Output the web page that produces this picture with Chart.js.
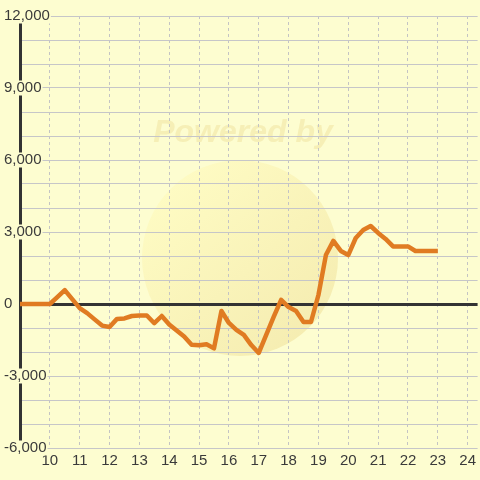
<!DOCTYPE html>
<html>
<head>
<meta charset="utf-8">
<script src="https://cdn.jsdelivr.net/npm/chart.js@4/dist/chart.umd.min.js"></script>
<style>
  html, body { margin: 0; padding: 0; background: #fdfdd0; }
  #c { display: block; }
</style>
</head>
<body>
<canvas id="c" width="480" height="480"></canvas>
<script>
// Hours (x) and values (y)
const hours = [9, 10, 10.25, 10.5, 10.75, 11, 11.25, 11.5, 11.75, 12, 12.25, 12.5, 12.75, 13, 13.25, 13.5, 13.75,
  14, 14.25, 14.5, 14.75, 15, 15.25, 15.5, 15.75, 16, 16.25, 16.5, 16.75, 17, 17.25, 17.5, 17.75,
  18, 18.25, 18.5, 18.75, 19, 19.25, 19.5, 19.75, 20, 20.25, 20.5, 20.75, 21, 21.25, 21.5, 21.75,
  22, 22.25, 22.5, 22.75, 23];
const values = [0, 0, 290, 580, 200, -170, -380, -640, -900, -960, -620, -600, -500, -480, -480, -800, -500,
  -850, -1100, -1350, -1700, -1720, -1680, -1850, -290, -790, -1080, -1290, -1710, -2040, -1290, -540, 170,
  -130, -290, -750, -750, 375, 2040, 2630, 2210, 2040, 2750, 3080, 3250, 2960, 2710, 2400, 2400,
  2400, 2210, 2210, 2210, 2210];
const xTickValues = [10, 11, 12, 13, 14, 15, 16, 17, 18, 19, 20, 21, 22, 23, 24];
const yLabelStep = 3000;
const watermarkText = 'Powered by';

const BG = '#fdfdd0';
const points = hours.map((h, i) => ({ x: h, y: values[i] }));

const bgPlugin = {
  id: 'bg',
  beforeDraw(chart) {
    const ctx = chart.ctx;
    ctx.save();
    ctx.fillStyle = BG;
    ctx.fillRect(0, 0, chart.width, chart.height);
    // faint watermark circle
    const g = ctx.createLinearGradient(170, 180, 320, 340);
    g.addColorStop(0, 'rgba(255,250,185,0.55)');
    g.addColorStop(1, 'rgba(238,222,150,0.55)');
    ctx.fillStyle = g;
    ctx.beginPath();
    ctx.arc(240, 258, 98, 0, Math.PI * 2);
    ctx.fill();
    ctx.font = 'italic bold 32px "Liberation Sans", Arial, sans-serif';
    ctx.fillStyle = 'rgba(238,222,150,0.45)';
    ctx.textAlign = 'center';
    ctx.textBaseline = 'middle';
    ctx.fillText(watermarkText, 243, 133);
    ctx.restore();
  }
};

new Chart(document.getElementById('c'), {
  type: 'line',
  data: {
    datasets: [{
      data: points,
      borderColor: '#e07b22',
      borderWidth: 4.5,
      pointRadius: 0,
      tension: 0,
      borderJoinStyle: 'round',
      fill: false
    }]
  },
  options: {
    responsive: false,
    animation: false,
    devicePixelRatio: 1,
    layout: { padding: { top: 16, right: 0, left: 0, bottom: 0 } },
    plugins: { legend: { display: false }, tooltip: { enabled: false } },
    scales: {
      x: {
        type: 'linear',
        min: 9,
        max: 24.333,
        afterBuildTicks: s => { s.ticks = xTickValues.map(v => ({ value: v })); },
        afterFit: s => { s.height = 32; },
        ticks: {
          font: { family: '"Liberation Sans", Arial, sans-serif', size: 15 },
          color: '#3a3a3a',
          padding: 4,
          maxRotation: 0,
          autoSkip: false
        },
        grid: { color: '#c4c4c4', lineWidth: 1, drawTicks: false },
        border: { display: false, dash: [3, 3] }
      },
      y: {
        type: 'linear',
        min: -6000,
        max: 12000,
        afterFit: s => { s.width = 20; },
        ticks: {
          stepSize: 1000,
          mirror: true,
          padding: -16,
          font: { family: '"Liberation Sans", Arial, sans-serif', size: 15, lineHeight: 1 },
          color: '#3a3a3a',
          showLabelBackdrop: true,
          backdropColor: BG,
          backdropPadding: { top: 0, bottom: 0, left: 1, right: 1 },
          callback: v => (v % yLabelStep === 0 ? v.toLocaleString('en-US') : '')
        },
        grid: {
          drawTicks: false,
          color: c => (c.tick && c.tick.value === 0 ? '#333333' : '#c6c6c8'),
          lineWidth: c => (c.tick && c.tick.value === 0 ? 3 : 1)
        },
        border: { display: true, color: '#333333', width: 3 }
      }
    }
  },
  plugins: [bgPlugin]
});
</script>
</body>
</html>
